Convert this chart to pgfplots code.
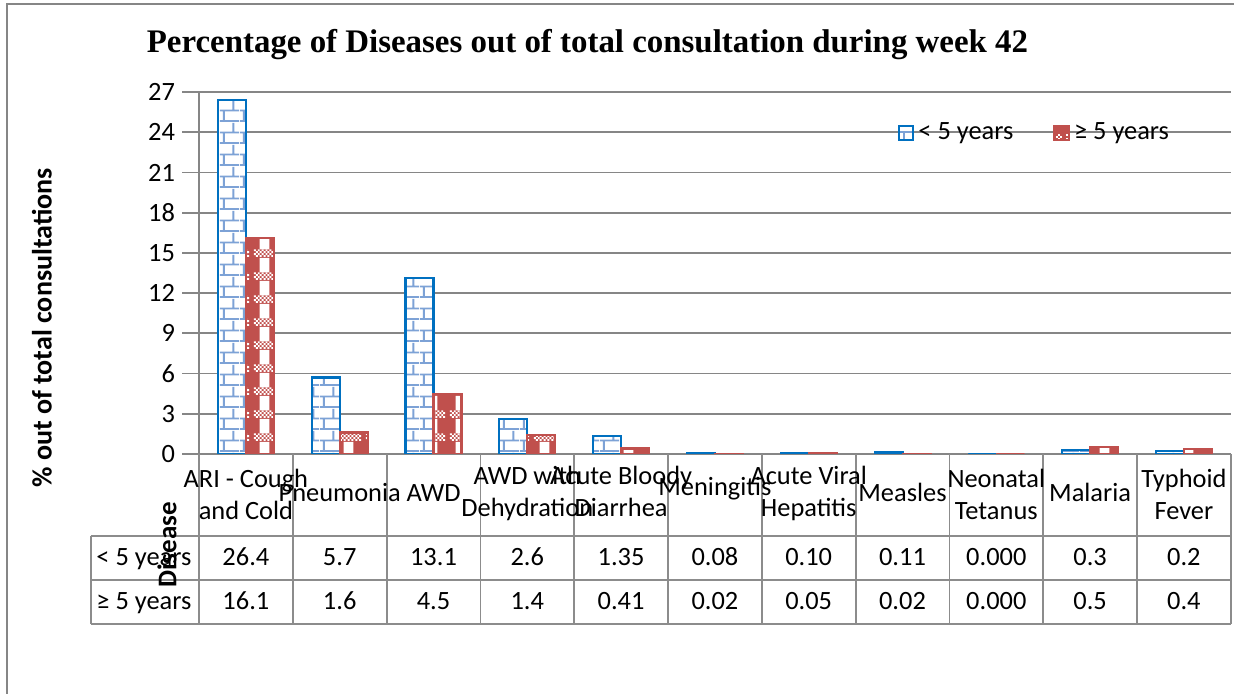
\documentclass[border=0pt]{standalone}
\usepackage{fontspec}
\setmainfont{Carlito}
\newfontfamily\titlefont{Liberation Serif}
\usepackage{pgfplots}
\pgfplotsset{compat=1.18}
\usetikzlibrary{patterns}

\definecolor{gridgray}{RGB}{134,134,134}
\definecolor{tabgray}{RGB}{140,140,140}
\definecolor{barblue}{RGB}{0,112,192}
\definecolor{brickblue}{RGB}{125,162,214}
\definecolor{barred}{RGB}{192,80,77}

\pgfdeclarepatternformonly{mybricks}{\pgfpointorigin}{\pgfqpoint{10pt}{11pt}}{\pgfqpoint{10pt}{11pt}}{%
  \pgfsetlinewidth{1pt}%
  \pgfpathmoveto{\pgfqpoint{0pt}{0.5pt}}\pgfpathlineto{\pgfqpoint{10pt}{0.5pt}}%
  \pgfpathmoveto{\pgfqpoint{0pt}{6pt}}\pgfpathlineto{\pgfqpoint{10pt}{6pt}}%
  \pgfpathmoveto{\pgfqpoint{2pt}{0.5pt}}\pgfpathlineto{\pgfqpoint{2pt}{6pt}}%
  \pgfpathmoveto{\pgfqpoint{7pt}{6pt}}\pgfpathlineto{\pgfqpoint{7pt}{11pt}}%
  \pgfusepath{stroke}}

\pgfdeclarepatternformonly{myweave}{\pgfpointorigin}{\pgfqpoint{14pt}{11.5pt}}{\pgfqpoint{14pt}{11.5pt}}{%
  \foreach \j in {0,1,2,3}{%
    \foreach \i in {1,...,12}{%
      \pgfmathparse{mod(\i+\j,2)}%
      \ifdim\pgfmathresult pt=0pt
        \pgfpathrectangle{\pgfpoint{\i pt}{\j pt}}{\pgfqpoint{1pt}{1pt}}\pgfusepath{fill}%
      \fi}}%
  \pgfpathrectangle{\pgfqpoint{4pt}{4pt}}{\pgfqpoint{5pt}{7.5pt}}%
  \pgfusepath{fill}}

\pgfplotsset{mylegimg/.style={legend image code/.code={\draw[##1] (0pt,-3.6pt) rectangle (7.2pt,3.6pt);}}}

\begin{document}
\begin{tikzpicture}[font=\fontsize{13.2}{16}\selectfont]
\begin{axis}[
  at={(0pt,0pt)}, anchor=south west, scale only axis,
  width=516pt, height=181pt,
  xmin=-0.5, xmax=10.5, ymin=0, ymax=27,
  ytick={0,3,...,27}, xtick=\empty,
  ymajorgrids, grid style={draw=gridgray, line width=0.9pt},
  axis x line*=bottom, axis y line*=left,
  axis line style={-, draw=gridgray, line width=0.9pt},
  tick align=outside, major tick length=8.5pt,
  ytick style={draw=gridgray, line width=0.9pt},
  yticklabel style={font=\fontsize{13.2}{16}\selectfont},
  /pgf/number format/assume math mode=true,
  ybar=0pt, bar width=14pt,
  legend columns=2,
  legend style={at={(0.671,0.887)}, anchor=west, draw=none, fill=none,
    font=\fontsize{13.2}{16}\selectfont,
    /tikz/every even column/.append style={column sep=18pt}},
]
\addplot[preaction={fill=white}, pattern=mybricks, pattern color=brickblue,
  draw=barblue, line width=1.1pt, mylegimg]
  coordinates {(0,26.4) (1,5.7) (2,13.1) (3,2.6) (4,1.35) (5,0.08) (6,0.10) (7,0.11) (8,0.000) (9,0.3) (10,0.2)};
\addlegendentry{< 5 years}
\addplot[preaction={fill=barred}, pattern=myweave, pattern color=white,
  draw=barred, line width=1.1pt, mylegimg]
  coordinates {(0,16.1) (1,1.6) (2,4.5) (3,1.4) (4,0.41) (5,0.02) (6,0.05) (7,0.02) (8,0.000) (9,0.5) (10,0.4)};
\addlegendentry{≥ 5 years}
\end{axis}

\begin{scope}[shift={(-99.5pt,227pt)}, x=0.5pt, y=-0.5pt]
  % outer frame
  \draw[gridgray, line width=1pt] (7,1000) -- (7,4) -- (1400,4);
  % table grid
  \begin{scope}[tabgray, line width=0.9pt]
    \foreach \k in {0,...,11}{\draw ({199+93.8*\k},454) -- ({199+93.8*\k},624);}
    \draw (91,536) -- (1231,536);
    \draw (91,580) -- (1231,580);
    \draw (91,624) -- (1231,624);
    \draw (91,536) -- (91,624);
  \end{scope}
  % category labels
  \node[anchor=base] at (245.9,488) {ARI - Cough};
  \node[anchor=base] at (245.9,520) {and Cold};
  \node[anchor=base] at (339.7,502) {Pneumonia};
  \node[anchor=base] at (433.5,502) {AWD};
  \node[anchor=base] at (527.3,485) {AWD with};
  \node[anchor=base] at (527.3,517) {Dehydration};
  \node[anchor=base] at (621.1,485) {Acute Bloody};
  \node[anchor=base] at (621.1,517) {Diarrhea};
  \node[anchor=base] at (714.9,496) {Meningitis};
  \node[anchor=base] at (808.7,485) {Acute Viral};
  \node[anchor=base] at (808.7,517) {Hepatitis};
  \node[anchor=base] at (902.5,502) {Measles};
  \node[anchor=base] at (996.3,488) {Neonatal};
  \node[anchor=base] at (996.3,520) {Tetanus};
  \node[anchor=base] at (1090.1,502) {Malaria};
  \node[anchor=base] at (1183.9,488) {Typhoid};
  \node[anchor=base] at (1183.9,520) {Fever};
  % row labels
  \node[anchor=base west, inner sep=0pt] at (96,566) {< 5 years};
  \node[anchor=base west, inner sep=0pt] at (96,610) {≥ 5 years};
  % values
  \foreach \v [count=\k from 0] in {26.4,5.7,13.1,2.6,1.35,0.08,0.10,0.11,0.000,0.3,0.2}
    {\node[anchor=base] at ({245.9+93.8*\k},566) {\v};}
  \foreach \v [count=\k from 0] in {16.1,1.6,4.5,1.4,0.41,0.02,0.05,0.02,0.000,0.5,0.4}
    {\node[anchor=base] at ({245.9+93.8*\k},610) {\v};}
  % axis titles
  \node[rotate=90, font=\fontsize{13.5}{16}\selectfont\bfseries] at (167,545) {Disease};
  \node[rotate=90, font=\fontsize{14}{17}\selectfont\bfseries] at (42,328) {\% out of total consultations};
  % title
  \node[anchor=base, font=\titlefont\bfseries\fontsize{16.45}{19}\selectfont] at (587.5,53)
    {Percentage of Diseases out of total consultation during week 42};
  \pgfresetboundingbox
  \useasboundingbox (0,0) rectangle (1234,694);
\end{scope}
\end{tikzpicture}
\end{document}
